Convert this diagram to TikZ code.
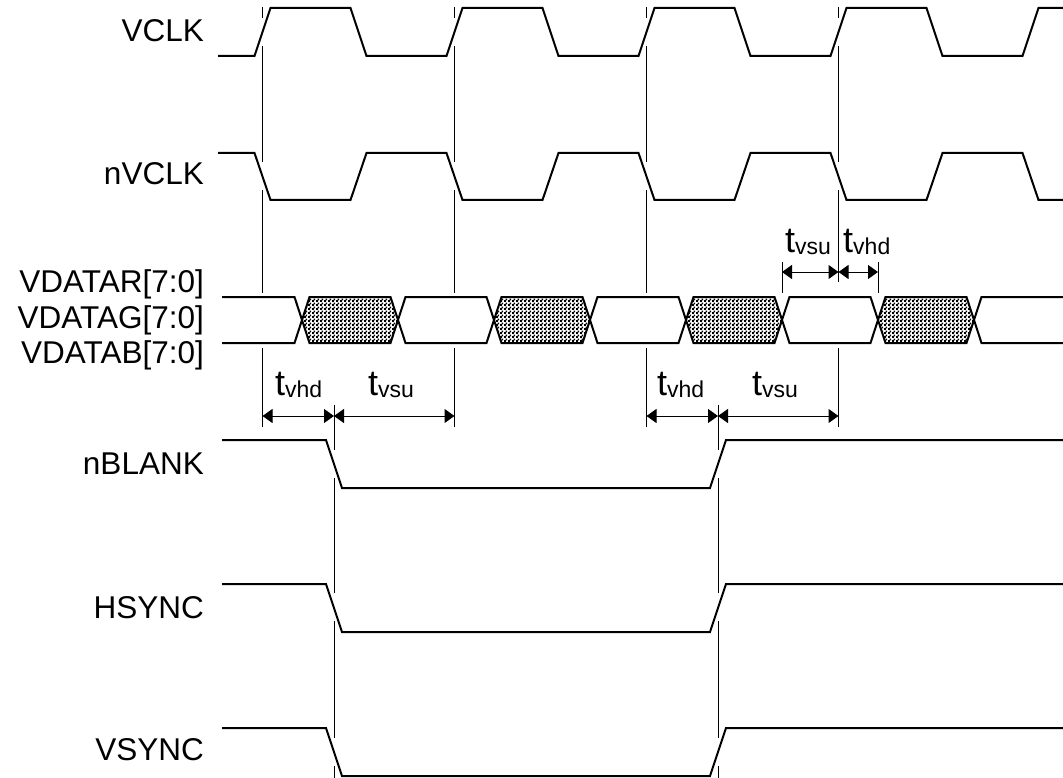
\documentclass[tikz,border=0pt]{standalone}
\usepackage{fontspec}
\setmainfont{Liberation Sans}
\usetikzlibrary{arrows.meta,patterns}
\pgfdeclarepatternformonly{checker}{\pgfqpoint{0pt}{0pt}}{\pgfqpoint{4pt}{4pt}}{\pgfqpoint{4pt}{4pt}}{%
 \pgfpathrectangle{\pgfqpoint{0pt}{0pt}}{\pgfqpoint{2.3pt}{2.3pt}}%
 \pgfpathrectangle{\pgfqpoint{2pt}{2pt}}{\pgfqpoint{2pt}{2pt}}%
 \pgfusepath{fill}}
\begin{document}
\begin{tikzpicture}[x=1pt,y=-1pt,
 wave/.style={line width=2pt, line join=miter},
 guide/.style={line width=0.8pt},
 dimarrow/.style={line width=1pt,{Triangle[length=10pt,width=14pt]}-{Triangle[length=10pt,width=14pt]}},
 sig/.style={font=\fontsize{31.5}{36}\selectfont, anchor=base east, inner sep=0pt},
 tlab/.style={font=\fontsize{36}{40}\selectfont, anchor=base west, inner sep=0pt},
]
\useasboundingbox (0,0) rectangle (1063,778);

% guide lines behind
\foreach \x in {262.5,454.5,646.5} {
  \draw[guide] (\x,7) -- (\x,18);
  \draw[guide] (\x,46) -- (\x,162);
  \draw[guide] (\x,190) -- (\x,293);
  \draw[guide] (\x,348) -- (\x,427);
}
\draw[guide] (838.5,7) -- (838.5,18);
\draw[guide] (838.5,46) -- (838.5,162);
\draw[guide] (838.5,190) -- (838.5,282);
\draw[guide] (838.5,348) -- (838.5,427);
\draw[guide] (782,262) -- (782,293);
\draw[guide] (878,262) -- (878,293);
\foreach \x in {334,718} {
  \draw[guide] (\x,405) -- (\x,450);
  \draw[guide] (\x,478) -- (\x,593);
  \draw[guide] (\x,621) -- (\x,738);
  \draw[guide] (\x,766) -- (\x,778);
}

% VCLK
\draw[wave] (218,56) -- (254.5,56) -- (270.5,8) -- (350.5,8) -- (366.5,56)
  -- (446.5,56) -- (462.5,8) -- (542.5,8) -- (558.5,56)
  -- (638.5,56) -- (654.5,8) -- (734.5,8) -- (750.5,56)
  -- (830.5,56) -- (846.5,8) -- (926.5,8) -- (942.5,56)
  -- (1022.5,56) -- (1038.5,8) -- (1063,8);
% nVCLK
\draw[wave] (218,153) -- (254.5,153) -- (270.5,200) -- (350.5,200) -- (366.5,153)
  -- (446.5,153) -- (462.5,200) -- (542.5,200) -- (558.5,153)
  -- (638.5,153) -- (654.5,200) -- (734.5,200) -- (750.5,153)
  -- (830.5,153) -- (846.5,200) -- (926.5,200) -- (942.5,153)
  -- (1022.5,153) -- (1038.5,200) -- (1063,200);

% data bus
\draw[wave] (222,297) -- (294.5,297) -- (302,320) -- (294.5,343) -- (222,343);
\foreach \c in {302,494,686,878} {
  \draw[wave, pattern=checker] (\c,320) -- (\c+7.5,297) -- (\c+88.5,297) -- (\c+96,320)
    -- (\c+88.5,343) -- (\c+7.5,343) -- cycle;
}
\foreach \c in {398,590,782} {
  \draw[wave] (\c,320) -- (\c+7.5,297) -- (\c+88.5,297) -- (\c+96,320)
    -- (\c+88.5,343) -- (\c+7.5,343) -- cycle;
}
\draw[wave] (1063,297) -- (981.5,297) -- (974,320) -- (981.5,343) -- (1063,343);

% nBLANK, HSYNC, VSYNC
\foreach \y in {440,584,728} {
  \draw[wave] (222,\y) -- (326,\y) -- (342,\y+48) -- (710,\y+48) -- (726,\y) -- (1063,\y);
}

% dimension arrows
\coordinate (a1) at (262.5,416);
\coordinate (a2) at (334,416);
\coordinate (a3) at (454.5,416);
\coordinate (b1) at (646.5,416);
\coordinate (b2) at (718,416);
\coordinate (b3) at (838.5,416);
\coordinate (c1) at (782,272);
\coordinate (c2) at (838.5,272);
\coordinate (c3) at (878,272);
\draw[dimarrow] (a2) -- (a1);
\draw[dimarrow] (a2) -- (a3);
\draw[dimarrow] (b2) -- (b1);
\draw[dimarrow] (b2) -- (b3);
\draw[dimarrow] (c2) -- (c1);
\draw[dimarrow] (c2) -- (c3);

% timing labels
\newcommand{\tsub}[1]{t\raisebox{-2pt}{\fontsize{23}{26}\selectfont #1}}
\node[tlab] (tvhd1) at (275,395) {\tsub{vhd}};
\node[tlab] (tvsu1) at (368,395) {\tsub{vsu}};
\node[tlab] (tvhd2) at (657,395) {\tsub{vhd}};
\node[tlab] (tvsu2) at (752,395) {\tsub{vsu}};
\node[tlab] (tvsu3) at (785,252) {\tsub{vsu}};
\node[tlab] (tvhd3) at (843,252) {\tsub{vhd}};

% signal names
\node[sig] (lvclk) at (204,42) {VCLK};
\node[sig] (lnvclk) at (204,185) {nVCLK};
\node[sig] (ldr) at (204,292) {VDATAR[7:0]};
\node[sig] (ldg) at (204,328) {VDATAG[7:0]};
\node[sig] (ldb) at (204,363) {VDATAB[7:0]};
\node[sig] (lnblank) at (204,474) {nBLANK};
\node[sig] (lhsync) at (204,618) {HSYNC};
\node[sig] (lvsync) at (204,760) {VSYNC};
\end{tikzpicture}
\end{document}
